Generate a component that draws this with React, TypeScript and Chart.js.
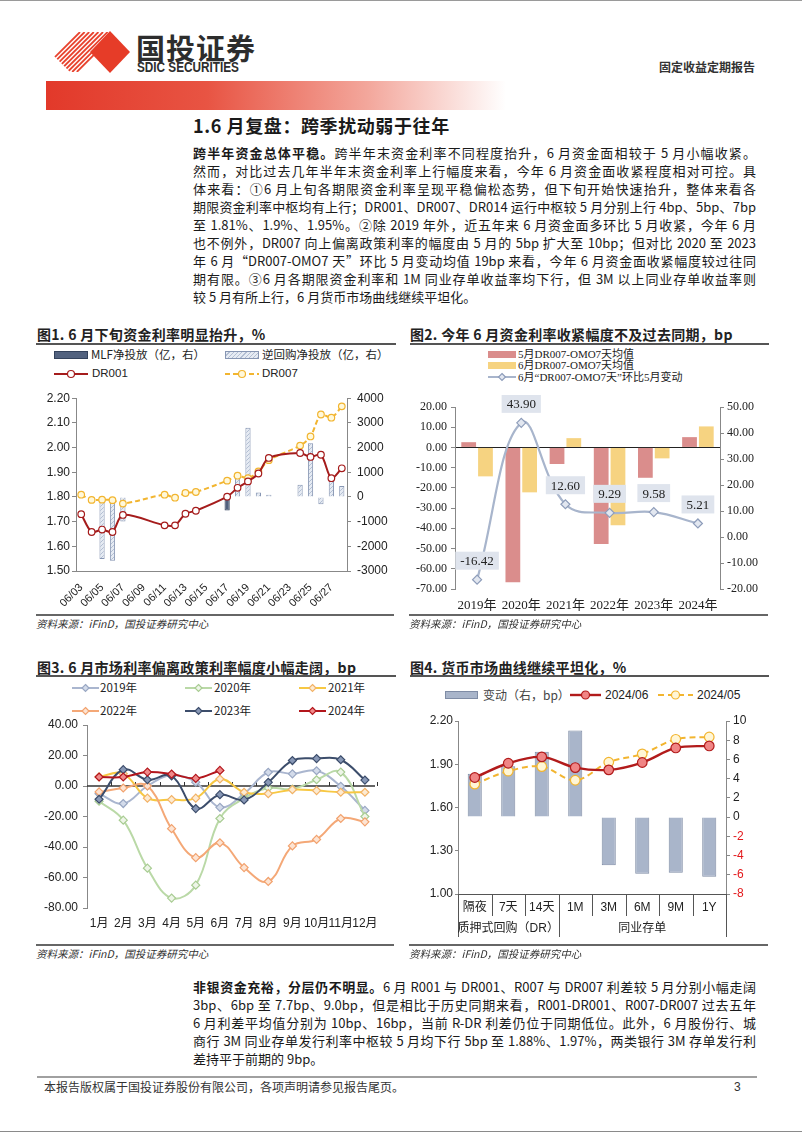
import React, { useEffect, useRef } from 'react';
import { Chart, registerables } from 'chart.js';
Chart.register(...registerables);

const SANS = "'Liberation Sans', 'Noto Sans CJK SC', sans-serif";
const SERIF = "'Liberation Serif', 'Noto Sans CJK SC', serif";
const CJK = "'Noto Sans CJK SC', 'Liberation Sans', sans-serif";
Chart.defaults.font.family = SANS;

// ---------- Chart 1 data ----------
const c1Days = ['06/03', '06/04', '06/05', '06/06', '06/07', '06/08', '06/09', '06/10', '06/11', '06/12', '06/13', '06/14', '06/15', '06/16', '06/17', '06/18', '06/19', '06/20', '06/21', '06/22', '06/23', '06/24', '06/25', '06/26', '06/27', '06/28'];
const c1Trade = ['06/03', '06/04', '06/05', '06/06', '06/07', '06/11', '06/12', '06/13', '06/14', '06/17', '06/18', '06/19', '06/20', '06/21', '06/24', '06/25', '06/26', '06/27', '06/28'];
const c1DR001 = [1.730, 1.658, 1.668, 1.658, 1.727, 1.685, 1.685, 1.732, 1.744, 1.801, 1.837, 1.863, 1.895, 1.958, 1.978, 1.962, 1.971, 1.876, 1.916];
const c1DR007 = [1.809, 1.788, 1.789, 1.787, 1.773, 1.809, 1.797, 1.816, 1.820, 1.866, 1.886, 1.876, 1.903, 1.949, 2.008, 2.045, 2.134, 2.121, 2.167];
const c1Repo = [0, 0, -2510, -2580, -990, 0, 0, 0, 0, 0, 790, 2800, 185, 90, 490, 2170, -300, 730, 440];
const c1MLF = [0, 0, 0, 0, 0, 0, 0, 0, 0, -550, 0, 0, 0, 0, 0, 0, 0, 0, 0];

// ---------- Chart 2 data ----------
const c2Years = ['2019年', '2020年', '2021年', '2022年', '2023年', '2024年'];
const c2May = [2.6, -66.7, -8.2, -47.7, -15.0, 5.1];
const c2Jun = [-14.3, -22.2, 4.6, -38.5, -5.4, 10.4];
const c2Chg = [-16.42, 43.90, 12.60, 9.29, 9.58, 5.21];

// ---------- Chart 3 data ----------
const c3Months = ['1月', '2月', '3月', '4月', '5月', '6月', '7月', '8月', '9月', '10月', '11月', '12月'];
const c3Y2019 = [-5, -11.5, 0, 7, 2.5, -14, -5, 9, 8, 10, -0.2, -16];
const c3Y2020 = [-10, -22.4, -53.9, -73.5, -65, -21.3, -8, -1.3, -2, 4.1, 9.1, -20];
const c3Y2021 = [6, 8, -8, -8.9, -8, 4.6, -4.1, -5, -2.4, -3, -4.1, -4.1];
const c3Y2022 = [-3.9, -1.3, 0, -28, -47, -37.2, -53.5, -62.6, -39.3, -35, -21.3, -23.5];
const c3Y2023 = [-8.7, 10.7, 4.1, 6.7, -14.8, -5.7, -9.1, 2.4, 16.7, 18, 17.2, 3.9];
const c3Y2024 = [5.9, 5.9, 9.1, 7.8, 5.0, 10.2];

// ---------- Chart 4 data ----------
const c4Terms = ['隔夜', '7天', '14天', '1M', '3M', '6M', '9M', '1Y'];
const c4GroupLabels = ['质押式回购（DR）', '同业存单'];
const c4GroupStart = [0, 3];
const c4GroupEnd = [2, 7];
const c4Jun = [1.808, 1.907, 1.951, 1.877, 1.861, 1.912, 2.013, 2.027];
const c4May = [1.762, 1.852, 1.884, 1.789, 1.914, 1.972, 2.073, 2.089];
const c4Chg = [4.5, 5.3, 6.8, 9.0, -5.0, -5.9, -5.8, -6.2];

// ---------- Text ----------
const P1Lead = '跨半年资金总体平稳。';
const P1Lines = [
  '跨半年末资金利率不同程度抬升，6 月资金面相较于 5 月小幅收紧。',
  '然而，对比过去几年半年末资金利率上行幅度来看，今年 6 月资金面收紧程度相对可控。具',
  '体来看：①6 月上旬各期限资金利率呈现平稳偏松态势，但下旬开始快速抬升，整体来看各',
  '期限资金利率中枢均有上行；DR001、DR007、DR014 运行中枢较 5 月分别上行 4bp、5bp、7bp',
  '至 1.81%、1.9%、1.95%。②除 2019 年外，近五年来 6 月资金面多环比 5 月收紧，今年 6 月',
  '也不例外，DR007 向上偏离政策利率的幅度由 5 月的 5bp 扩大至 10bp；但对比 2020 至 2023',
  '年 6 月“DR007-OMO7 天”环比 5 月变动均值 19bp 来看，今年 6 月资金面收紧幅度较过往同',
  '期有限。③6 月各期限资金利率和 1M 同业存单收益率均下行，但 3M 以上同业存单收益率则',
  '较 5 月有所上行，6 月货币市场曲线继续平坦化。',
];
const P2Lead = '非银资金充裕，分层仍不明显。';
const P2Lines = [
  '6 月 R001 与 DR001、R007 与 DR007 利差较 5 月分别小幅走阔',
  '3bp、6bp 至 7.7bp、9.0bp，但是相比于历史同期来看，R001-DR001、R007-DR007 过去五年',
  '6 月利差平均值分别为 10bp、16bp，当前 R-DR 利差仍位于同期低位。此外，6 月股份行、城',
  '商行 3M 同业存单发行利率中枢较 5 月均下行 5bp 至 1.88%、1.97%，两类银行 3M 存单发行利',
  '差持平于前期的 9bp。',
];

function hatch(): any {
  const c = document.createElement('canvas');
  c.width = 4; c.height = 4;
  const g = c.getContext('2d')!;
  g.fillStyle = '#e6ebf3'; g.fillRect(0, 0, 4, 4);
  g.strokeStyle = '#b3bfd3'; g.lineWidth = 1;
  g.beginPath(); g.moveTo(0, 4); g.lineTo(4, 0); g.stroke();
  return g.createPattern(c, 'repeat');
}

const fixed2 = (v: any) => Number(v).toFixed(2);

function yLeft(min: number, max: number, step: number, width: number, extra: any = {}) {
  return {
    position: 'left', min, max,
    ticks: { stepSize: step, callback: extra.cb || fixed2, font: { size: 12, family: extra.family || SANS }, color: '#222', padding: extra.pad ?? 3 },
    grid: { display: true, drawOnChartArea: !!extra.zero, color: extra.zero ? (c: any) => (c.tick && c.tick.value === 0 ? '#222' : 'rgba(0,0,0,0)') : '#888', tickColor: '#888', tickLength: extra.tl ?? 4 },
    border: { color: '#888' },
    afterFit: (s: any) => { s.width = width; },
  };
}
function yRight(min: number, max: number, step: number, width: number, extra: any = {}) {
  return {
    position: 'right', min, max,
    ticks: { stepSize: step, callback: extra.cb || ((v: any) => String(v)), font: { size: 12, family: extra.family || SANS }, color: extra.color || '#222', padding: extra.pad ?? 3 },
    grid: { display: true, drawOnChartArea: false, color: '#888', tickLength: 4 },
    border: { color: '#888' },
    afterFit: (s: any) => { s.width = width; },
  };
}

function makeC1() {
  const pick = (arr: number[]) => c1Days.map((d) => { const i = c1Trade.indexOf(d); return i < 0 ? null : arr[i]; });
  const nz = (arr: number[]) => pick(arr).map((v) => (v === 0 ? null : v));
  return {
    type: 'bar',
    data: {
      labels: c1Days,
      datasets: [
        { type: 'line', label: 'DR001', data: pick(c1DR001), yAxisID: 'y', borderColor: '#a51c1c', borderWidth: 2, pointRadius: 3.3, pointBorderWidth: 1.2, pointBackgroundColor: '#ffffff', pointBorderColor: '#a51c1c', tension: 0.3, spanGaps: true, order: 1 },
        { type: 'line', label: 'DR007', data: pick(c1DR007), yAxisID: 'y', borderColor: '#f2b530', borderWidth: 2, borderDash: [5, 3], pointRadius: 3.3, pointBorderWidth: 1.2, pointBackgroundColor: '#fff8da', pointBorderColor: '#f2b530', tension: 0.3, spanGaps: true, order: 2 },
        { type: 'bar', label: 'MLF净投放（亿，右）', data: nz(c1MLF), yAxisID: 'y1', backgroundColor: '#52627f', borderColor: '#33425c', borderWidth: 1, barPercentage: 0.5, categoryPercentage: 1, grouped: false, order: 4 },
        { type: 'bar', label: '逆回购净投放（亿，右）', data: nz(c1Repo), yAxisID: 'y1', backgroundColor: hatch(), borderColor: '#8796b3', borderWidth: 1, barPercentage: 0.5, categoryPercentage: 1, grouped: false, order: 3 },
      ],
    },
    options: {
      responsive: false, animation: false,
      layout: { padding: { top: 9, left: 0, right: 0, bottom: 0 } },
      plugins: { legend: { display: false }, tooltip: { enabled: false } },
      scales: {
        x: {
          offset: true, grid: { display: false }, border: { color: '#888' },
          ticks: { autoSkip: false, maxRotation: 45, minRotation: 45, font: { size: 11 }, color: '#222', padding: 2, callback: (_v: any, i: number) => (i % 2 === 0 ? c1Days[i] : '') },
          afterFit: (s: any) => { s.height = 41; },
        },
        y: yLeft(1.5, 2.2, 0.1, 46, { pad: 2 }),
        y1: yRight(-3000, 4000, 1000, 48, { pad: 6 }),
      },
    },
  };
}

function makeC2() {
  const labelPlugin = {
    id: 'c2labels',
    afterDatasetsDraw(chart: any) {
      const ctx = chart.ctx;
      const meta = chart.getDatasetMeta(2);
      ctx.save();
      ctx.font = `13px ${SERIF}`;
      ctx.textAlign = 'center';
      ctx.textBaseline = 'middle';
      meta.data.forEach((pt: any, i: number) => {
        const txt = c2Chg[i].toFixed(2);
        const w = ctx.measureText(txt).width + 10;
        const h = 18;
        const cy = pt.y - 19;
        ctx.fillStyle = '#dfe4ed';
        ctx.fillRect(pt.x - w / 2, cy - h / 2, w, h);
        ctx.fillStyle = '#222';
        ctx.fillText(txt, pt.x, cy + 1);
      });
      ctx.restore();
    },
  };
  return {
    type: 'bar',
    data: {
      labels: c2Years,
      datasets: [
        { label: '5月DR007-OMO7天均值', data: c2May, yAxisID: 'y', backgroundColor: '#da8d8c', categoryPercentage: 0.76, barPercentage: 0.88, order: 3 },
        { label: '6月DR007-OMO7天均值', data: c2Jun, yAxisID: 'y', backgroundColor: '#f6d381', categoryPercentage: 0.76, barPercentage: 0.88, order: 3 },
        { type: 'line', label: '6月“DR007-OMO7天”环比5月变动', data: c2Chg, yAxisID: 'y1', borderColor: '#a8b5cc', borderWidth: 2.2, tension: 0.4, pointStyle: 'rectRot', pointRadius: 4.5, pointBorderWidth: 1.2, pointBackgroundColor: '#e2e7f0', pointBorderColor: '#8e9dba', order: 1 },
      ],
    },
    options: {
      responsive: false, animation: false,
      layout: { padding: { top: 12, left: 0, right: 0, bottom: 0 } },
      plugins: { legend: { display: false }, tooltip: { enabled: false } },
      scales: {
        x: { grid: { display: false, drawTicks: false }, border: { display: false }, ticks: { autoSkip: false, maxRotation: 0, minRotation: 0, font: { size: 13, family: SERIF }, color: '#222', padding: 9 }, afterFit: (s: any) => { s.height = 26; } },
        y: yLeft(-70, 20, 10, 50, { family: SERIF, zero: true, pad: 4 }),
        y1: yRight(-20, 50, 10, 55, { family: SERIF, cb: fixed2, pad: 3 }),
      },
    },
    plugins: [labelPlugin],
  };
}

function makeC3() {
  const zeroPlugin = {
    id: 'c3zero',
    beforeDatasetsDraw(chart: any) {
      const { ctx, chartArea: a, scales } = chart;
      const y0 = scales.y.getPixelForValue(0);
      ctx.save();
      ctx.strokeStyle = '#333';
      ctx.lineWidth = 1.3;
      ctx.beginPath(); ctx.moveTo(a.left, y0); ctx.lineTo(a.right - 2, y0); ctx.stroke();
      const half = (scales.x.getPixelForValue(1) - scales.x.getPixelForValue(0)) / 2;
      ctx.lineWidth = 1;
      for (let i = 1; i <= c3Months.length; i++) {
        const x = Math.round(scales.x.getPixelForValue(i - 1) + half) + 0.5;
        ctx.beginPath(); ctx.moveTo(x, y0); ctx.lineTo(x, y0 - 4); ctx.stroke();
      }
      ctx.restore();
    },
  };
  const ser = (label: string, data: number[], line: string, fill: string, border: string, order: number) => ({
    label, data, borderColor: line, borderWidth: 2, tension: 0.4, pointStyle: 'rectRot', pointRadius: 4, pointBorderWidth: 1.2,
    pointBackgroundColor: fill, pointBorderColor: border, order,
  });
  return {
    type: 'line',
    data: {
      labels: c3Months,
      datasets: [
        ser('2019年', c3Y2019, '#aab6cf', '#d3dbea', '#99a7c3', 6),
        ser('2020年', c3Y2020, '#bad9a7', '#eef5e8', '#a8cc92', 5),
        ser('2021年', c3Y2021, '#f7c843', '#fdebd2', '#f2b266', 4),
        ser('2022年', c3Y2022, '#f4a877', '#fde4d3', '#f2a26e', 3),
        ser('2023年', c3Y2023, '#3c4d6b', '#8898b6', '#3c4d6b', 2),
        ser('2024年', c3Y2024, '#b3161c', '#f08a8a', '#b3161c', 1),
      ],
    },
    options: {
      responsive: false, animation: false,
      layout: { padding: { top: 13, left: 0, right: 18, bottom: 0 } },
      plugins: { legend: { display: false }, tooltip: { enabled: false } },
      scales: {
        x: { offset: true, grid: { display: false, drawTicks: false }, border: { display: false }, ticks: { autoSkip: false, maxRotation: 0, minRotation: 0, font: { size: 12 }, color: '#222', padding: 8 }, afterFit: (s: any) => { s.height = 27; } },
        y: yLeft(-80, 40, 20, 57, { pad: 5 }),
      },
    },
    plugins: [zeroPlugin],
  };
}

function makeC4() {
  const axisPlugin = {
    id: 'c4axis',
    afterDraw(chart: any) {
      const { ctx, chartArea: a, scales } = chart;
      const xs = scales.x;
      const half = (xs.getPixelForValue(1) - xs.getPixelForValue(0)) / 2;
      const n = c4Terms.length;
      ctx.save();
      ctx.strokeStyle = '#555';
      ctx.lineWidth = 1;
      const longB = new Set<number>();
      c4GroupStart.forEach((s) => longB.add(s));
      c4GroupEnd.forEach((e) => longB.add(e + 1));
      for (let b = 0; b <= n; b++) {
        const x = Math.round(xs.getPixelForValue(0) - half + b * 2 * half) + 0.5;
        ctx.beginPath(); ctx.moveTo(x, a.bottom); ctx.lineTo(x, a.bottom + (longB.has(b) ? 43 : 22)); ctx.stroke();
      }
      ctx.fillStyle = '#222';
      ctx.textAlign = 'center';
      ctx.textBaseline = 'middle';
      ctx.font = `12px ${SANS}`;
      c4Terms.forEach((t, i) => ctx.fillText(t, xs.getPixelForValue(i), a.bottom + 14));
      c4GroupLabels.forEach((g, k) => {
        const cx = (xs.getPixelForValue(c4GroupStart[k]) + xs.getPixelForValue(c4GroupEnd[k])) / 2;
        ctx.fillText(g, cx, a.bottom + 35);
      });
      ctx.restore();
    },
  };
  return {
    type: 'bar',
    data: {
      labels: c4Terms,
      datasets: [
        { type: 'line', label: '2024/06', data: c4Jun, yAxisID: 'y', borderColor: '#b21b1b', borderWidth: 2.4, tension: 0.35, pointRadius: 4.8, pointBorderWidth: 1.2, pointBackgroundColor: '#f08585', pointBorderColor: '#b21b1b', order: 1 },
        { type: 'line', label: '2024/05', data: c4May, yAxisID: 'y', borderColor: '#f2b530', borderWidth: 2, borderDash: [6, 4], tension: 0.35, pointRadius: 4.8, pointBorderWidth: 1.2, pointBackgroundColor: '#fff6d6', pointBorderColor: '#f2b530', order: 2 },
        { type: 'bar', label: '变动（右，bp）', data: c4Chg, yAxisID: 'y1', backgroundColor: '#a9b5ca', borderColor: '#7f8ca5', borderWidth: 1, barPercentage: 0.42, categoryPercentage: 1, order: 3 },
      ],
    },
    options: {
      responsive: false, animation: false,
      layout: { padding: { top: 13, left: 0, right: 0, bottom: 0 } },
      plugins: { legend: { display: false }, tooltip: { enabled: false } },
      scales: {
        x: { offset: true, grid: { display: false }, border: { color: '#555' }, ticks: { display: false }, afterFit: (s: any) => { s.height = 51; } },
        y: yLeft(1.0, 2.2, 0.3, 53, { pad: 2, tl: 3 }),
        y1: yRight(-8, 10, 2, 49, { pad: 3, color: (c: any) => (c.tick && c.tick.value < 0 ? '#e3191c' : '#222') }),
      },
    },
    plugins: [axisPlugin],
  };
}

function ChartBox({ l, t, w, h, make }: { l: number; t: number; w: number; h: number; make: () => any }) {
  const ref = useRef<HTMLCanvasElement>(null);
  useEffect(() => {
    const chart = new Chart(ref.current as HTMLCanvasElement, make());
    return () => chart.destroy();
  }, []);
  return (
    <div style={{ position: 'absolute', left: l, top: t, width: w, height: h }}>
      <canvas ref={ref} width={w} height={h} style={{ width: w, height: h, display: 'block' }} />
    </div>
  );
}

function Txt({ x, y, size, children, style }: { x: number; y: number; size: number; children: React.ReactNode; style?: React.CSSProperties }) {
  return (
    <div style={{ position: 'absolute', left: x, top: y - size / 2, fontSize: size, lineHeight: `${size}px`, whiteSpace: 'nowrap', fontFamily: CJK, color: '#222', ...style }}>
      {children}
    </div>
  );
}

function Rule({ x1, x2, y, w = 2, c = '#555' }: { x1: number; x2: number; y: number; w?: number; c?: string }) {
  return <div style={{ position: 'absolute', left: x1, top: y - w / 2, width: x2 - x1, height: w, background: c }} />;
}

function LineMark({ x, y, w, color, dash, marker, fill, stroke, sw = 2, r = 3.5 }: any) {
  return (
    <svg style={{ position: 'absolute', left: x, top: y - 7 }} width={w} height={14}>
      <line x1={0} y1={7} x2={w} y2={7} stroke={color} strokeWidth={sw} strokeDasharray={dash || undefined} />
      {marker === 'circle' && <circle cx={w / 2} cy={7} r={r} fill={fill} stroke={stroke} strokeWidth={1.2} />}
      {marker === 'diamond' && <polygon points={`${w / 2},${7 - r - 0.5} ${w / 2 + r + 0.5},7 ${w / 2},${7 + r + 0.5} ${w / 2 - r - 0.5},7`} fill={fill} stroke={stroke} strokeWidth={1.2} />}
    </svg>
  );
}

function BarMark({ x, y, w, h = 8, bg, border }: any) {
  return <div style={{ position: 'absolute', left: x, top: y - h / 2, width: w, height: h, background: bg, border: `1px solid ${border}`, boxSizing: 'border-box' }} />;
}

function Para({ top, lead, lines }: { top: number; lead: string; lines: string[] }) {
  return (
    <div style={{ position: 'absolute', left: 193, top, width: 563, fontFamily: CJK, fontSize: 13, color: '#1a1a1a' }}>
      {lines.map((ln, i) => (
        <div key={i} style={{ height: 18, lineHeight: '18px', textAlign: 'justify', textAlignLast: i === lines.length - 1 ? 'left' : 'justify', whiteSpace: 'nowrap' as any }}>
          {i === 0 && <span style={{ fontWeight: 700 }}>{lead}</span>}
          {ln}
        </div>
      ))}
    </div>
  );
}

function Logo() {
  const stripes = [];
  for (let k = 0; k < 9; k++) {
    const o = k * 4.6;
    stripes.push(<line key={k} x1={o - 6} y1={44} x2={o + 34} y2={4} stroke="#e8432e" strokeWidth={1.8} />);
  }
  return (
    <svg style={{ position: 'absolute', left: 46, top: 28 }} width={90} height={50}>
      <defs>
        <clipPath id="stripeClip">
          <polygon points="4,24 24,4 62,4 62,44 24,44" />
        </clipPath>
      </defs>
      <g clipPath="url(#stripeClip)">{stripes}</g>
      <polygon points="64,3 84,24 64,45 44,24" fill="#e63c28" />
    </svg>
  );
}

export default function App() {
  return (
    <div style={{ position: 'absolute', left: 0, top: 0, width: 802, height: 1133, background: '#fff', overflow: 'hidden', fontFamily: CJK }}>
      <Rule x1={0} x2={802} y={0.5} w={1} c="#9a9a9a" />
      <Logo />
      <Txt x={136} y={47} size={29} style={{ fontWeight: 700, color: '#2d2d2d', letterSpacing: 1 }}>国投证券</Txt>
      <div style={{ position: 'absolute', left: 137, top: 60, fontFamily: SANS, fontWeight: 700, fontSize: 14, lineHeight: '14px', color: '#2d2d2d', transform: 'scaleX(0.84)', transformOrigin: 'left', whiteSpace: 'nowrap' }}>SDIC SECURITIES</div>
      <Txt x={659} y={67} size={12} style={{ fontWeight: 700, color: '#333', letterSpacing: 0 }}>固定收益定期报告</Txt>
      <div style={{ position: 'absolute', left: 46, top: 81, width: 460, height: 29, background: 'linear-gradient(to right, #e2392a 0%, #e85443 35%, #f3a79c 70%, #ffffff 100%)' }} />
      <Txt x={193} y={125} size={18} style={{ fontWeight: 700, color: '#1a1a1a', letterSpacing: 0.6 }}>1.6 月复盘：跨季扰动弱于往年</Txt>
      <Para top={144} lead={P1Lead} lines={P1Lines} />

      {/* Chart 1 */}
      <Txt x={37} y={334} size={14} style={{ fontWeight: 700, letterSpacing: 0.3 }}>图1. 6 月下旬资金利率明显抬升，%</Txt>
      <Rule x1={36} x2={396} y={344} />
      <BarMark x={54} y={355} w={34} bg="#52627f" border="#33425c" />
      <Txt x={91} y={355} size={11.5}>MLF净投放（亿，右）</Txt>
      <BarMark x={225} y={355} w={34} bg="repeating-linear-gradient(135deg, #e6ebf3 0px, #e6ebf3 2px, #b3bfd3 2px, #b3bfd3 3px)" border="#8796b3" />
      <Txt x={262} y={355} size={11.5}>逆回购净投放（亿，右）</Txt>
      <LineMark x={54} y={374} w={34} color="#a51c1c" marker="circle" fill="#fff" stroke="#a51c1c" />
      <Txt x={92} y={374} size={11.5} style={{ fontFamily: SANS }}>DR001</Txt>
      <LineMark x={225} y={374} w={34} color="#f2b530" dash="5 3" marker="circle" fill="#fff8da" stroke="#f2b530" />
      <Txt x={262} y={374} size={11.5} style={{ fontFamily: SANS }}>DR007</Txt>
      <ChartBox l={30} t={385} w={365} h={227} make={makeC1} />
      <Rule x1={36} x2={394} y={615} w={1.5} c="#666" />
      <Txt x={36} y={624} size={10.5} style={{ fontStyle: 'italic', color: '#333' }}>资料来源：iFinD，国投证券研究中心</Txt>

      {/* Chart 2 */}
      <Txt x={410} y={334} size={14} style={{ fontWeight: 700, letterSpacing: 0.3 }}>图2. 今年 6 月资金利率收紧幅度不及过去同期，bp</Txt>
      <Rule x1={410} x2={769} y={344} />
      <BarMark x={488} y={354} w={28} h={7} bg="#da8d8c" border="#da8d8c" />
      <Txt x={518} y={354} size={11} style={{ fontFamily: SERIF }}>5月DR007-OMO7天均值</Txt>
      <BarMark x={488} y={365.5} w={28} h={7} bg="#f6d381" border="#f6d381" />
      <Txt x={518} y={365.5} size={11} style={{ fontFamily: SERIF }}>6月DR007-OMO7天均值</Txt>
      <LineMark x={488} y={377} w={28} color="#a8b5cc" marker="diamond" fill="#e2e7f0" stroke="#8e9dba" r={3} />
      <Txt x={518} y={377} size={11} style={{ fontFamily: SERIF }}>6月“DR007-OMO7天”环比5月变动</Txt>
      <ChartBox l={405} t={395} w={370} h={220} make={makeC2} />
      <Rule x1={409} x2={768} y={615} w={1.5} c="#666" />
      <Txt x={409} y={624} size={10.5} style={{ fontStyle: 'italic', color: '#333' }}>资料来源：iFinD，国投证券研究中心</Txt>

      {/* Chart 3 */}
      <Txt x={37} y={667} size={14} style={{ fontWeight: 700, letterSpacing: 0.3 }}>图3. 6 月市场利率偏离政策利率幅度小幅走阔，bp</Txt>
      <Rule x1={36} x2={396} y={676} />
      <LineMark x={72} y={688} w={27} color="#aab6cf" marker="diamond" fill="#d3dbea" stroke="#99a7c3" r={3} />
      <Txt x={100} y={688} size={11.5}>2019年</Txt>
      <LineMark x={185} y={688} w={27} color="#bad9a7" marker="diamond" fill="#eef5e8" stroke="#a8cc92" r={3} />
      <Txt x={214} y={688} size={11.5}>2020年</Txt>
      <LineMark x={299} y={688} w={27} color="#f7c843" marker="diamond" fill="#fdebd2" stroke="#f2b266" r={3} />
      <Txt x={328} y={688} size={11.5}>2021年</Txt>
      <LineMark x={72} y={711} w={27} color="#f4a877" marker="diamond" fill="#fde4d3" stroke="#f2a26e" r={3} />
      <Txt x={100} y={711} size={11.5}>2022年</Txt>
      <LineMark x={185} y={711} w={27} color="#3c4d6b" marker="diamond" fill="#8898b6" stroke="#3c4d6b" r={3} />
      <Txt x={214} y={711} size={11.5}>2023年</Txt>
      <LineMark x={299} y={711} w={27} color="#b3161c" marker="diamond" fill="#f08a8a" stroke="#b3161c" r={3} />
      <Txt x={328} y={711} size={11.5}>2024年</Txt>
      <ChartBox l={30} t={712} w={365} h={223} make={makeC3} />
      <Rule x1={36} x2={394} y={945} w={1.5} c="#666" />
      <Txt x={36} y={954} size={10.5} style={{ fontStyle: 'italic', color: '#333' }}>资料来源：iFinD，国投证券研究中心</Txt>

      {/* Chart 4 */}
      <Txt x={410} y={667} size={14} style={{ fontWeight: 700, letterSpacing: 0.3 }}>图4. 货币市场曲线继续平坦化，%</Txt>
      <Rule x1={410} x2={769} y={676} />
      <BarMark x={445} y={695} w={33} bg="#a9b5ca" border="#7f8ca5" />
      <Txt x={483} y={695} size={12} style={{ color: '#444' }}>变动（右，bp）</Txt>
      <LineMark x={570} y={695} w={31} color="#b21b1b" marker="circle" fill="#f08585" stroke="#b21b1b" sw={2.4} r={4} />
      <Txt x={605} y={695} size={12} style={{ fontFamily: SANS }}>2024/06</Txt>
      <LineMark x={658} y={695} w={35} color="#f2b530" dash="6 4" marker="circle" fill="#fff6d6" stroke="#f2b530" r={4} />
      <Txt x={697} y={695} size={12} style={{ fontFamily: SANS }}>2024/05</Txt>
      <ChartBox l={405} t={708} w={370} h={237} make={makeC4} />
      <Rule x1={409} x2={768} y={945} w={1.5} c="#666" />
      <Txt x={409} y={954} size={10.5} style={{ fontStyle: 'italic', color: '#333' }}>资料来源：iFinD，国投证券研究中心</Txt>

      <Para top={978} lead={P2Lead} lines={P2Lines} />

      <Rule x1={37} x2={757} y={1077} w={2} c="#a0a0a0" />
      <Txt x={44} y={1087} size={12} style={{ color: '#333' }}>本报告版权属于国投证券股份有限公司，各项声明请参见报告尾页。</Txt>
      <Txt x={734} y={1087} size={12} style={{ fontFamily: SANS, color: '#333' }}>3</Txt>
      <Rule x1={0} x2={802} y={1131.5} w={1.5} c="#8a8a8a" />
    </div>
  );
}
